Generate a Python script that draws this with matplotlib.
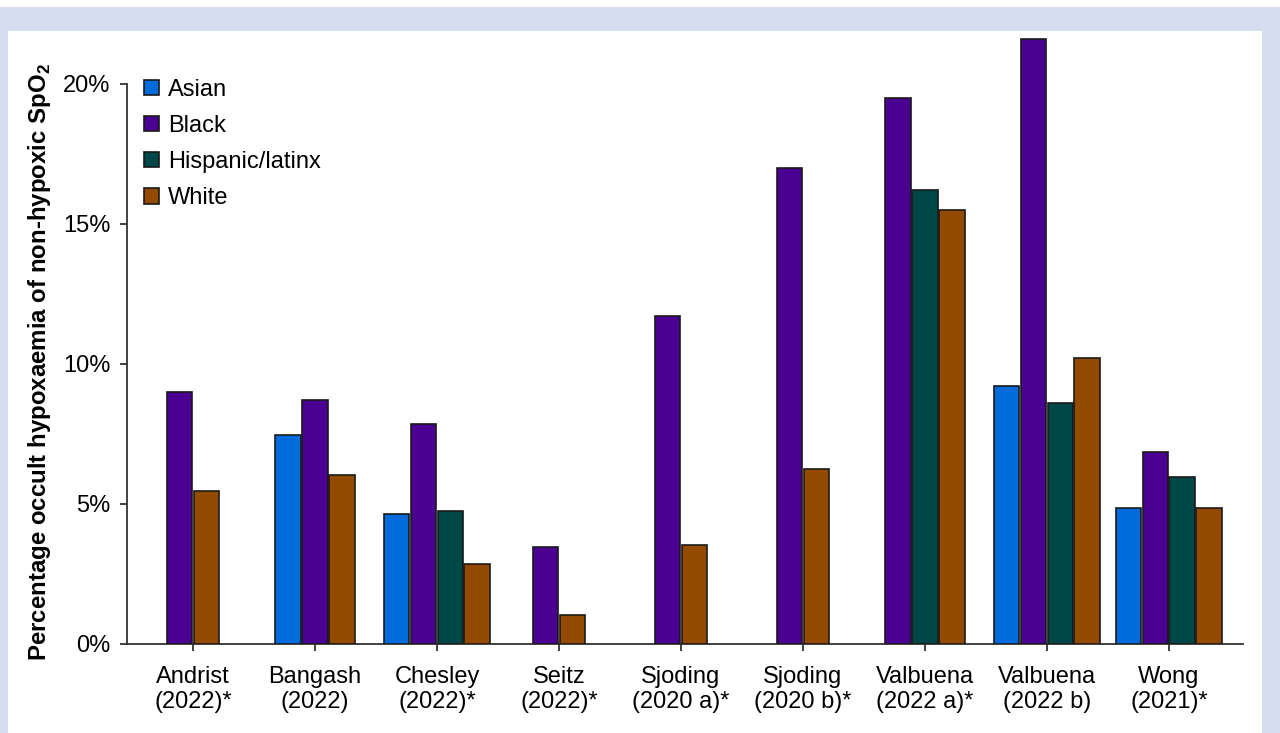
import numpy as np
import matplotlib
matplotlib.use('Agg')
import matplotlib.pyplot as plt
from matplotlib.patches import Rectangle

plt.rcParams['font.family'] = ['Liberation Sans', 'DejaVu Sans']
plt.rcParams['mathtext.fontset'] = 'custom'
plt.rcParams['mathtext.rm'] = 'Liberation Sans'
plt.rcParams['mathtext.bf'] = 'Liberation Sans:bold'

studies = ['Andrist\n(2022)*', 'Bangash\n(2022)', 'Chesley\n(2022)*', 'Seitz\n(2022)*',
           'Sjoding\n(2020 a)*', 'Sjoding\n(2020 b)*', 'Valbuena\n(2022 a)*',
           'Valbuena\n(2022 b)', 'Wong\n(2021)*']
groups = ['Asian', 'Black', 'Hispanic/latinx', 'White']
nan = np.nan
asian = [nan, 7.45, 4.65, nan, nan, nan, nan, 9.2, 4.85]
black = [9.0, 8.7, 7.85, 3.45, 11.7, 17.0, 19.5, 21.6, 6.85]
hispanic = [nan, nan, 4.75, nan, nan, nan, 16.2, 8.6, 5.95]
white = [5.45, 6.05, 2.85, 1.05, 3.55, 6.25, 15.5, 10.2, 4.85]
colors = ['#006CDC', '#4A0090', '#004848', '#924B00']

series = [asian, black, hispanic, white]

fig = plt.figure(figsize=(12.8, 7.33), dpi=100)
fig.patches.append(Rectangle((0, 0), 1, 1 - 7 / 733, transform=fig.transFigure,
                             facecolor='#D5DDEE', edgecolor='none', zorder=-10))
fig.patches.append(Rectangle((8 / 1280, 0), (1262 - 8) / 1280, 1 - 31 / 733,
                             transform=fig.transFigure, facecolor='white',
                             edgecolor='none', zorder=-9))

ax = fig.add_axes([127 / 1280, 1 - 644 / 733, (1243 - 127) / 1280, 616 / 733])
ax.patch.set_alpha(0)

step = 0.221
width = 0.212
handles = {}
for i in range(len(studies)):
    present = [k for k in range(4) if not np.isnan(series[k][i])]
    n = len(present)
    for j, k in enumerate(present):
        x = i + (j - (n - 1) / 2) * step
        b = ax.bar(x, series[k][i], width=width, color=colors[k],
                   edgecolor='#1a1a1a', linewidth=1.2, zorder=3)
        handles[k] = b

ax.set_xlim(-0.541, 8.607)
ax.set_ylim(0, 22)
ax.spines['left'].set_bounds(0, 20)
for s in ['top', 'right']:
    ax.spines[s].set_visible(False)
for s in ['left', 'bottom']:
    ax.spines[s].set_color('#333333')
    ax.spines[s].set_linewidth(1.3)

ax.set_yticks([0, 5, 10, 15, 20])
ax.set_yticklabels(['0%', '5%', '10%', '15%', '20%'])
ax.set_xticks(range(len(studies)))
ax.set_xticklabels(studies, linespacing=1.18)
ax.tick_params(axis='both', labelsize=17, length=5, width=1.3, color='#333333',
               direction='out', pad=7)
ax.tick_params(axis='x', pad=11)

ax.set_ylabel('Percentage occult hypoxaemia of non-hypoxic SpO$_\\mathbf{2}$',
              fontsize=17.3, fontweight='bold')
ax.yaxis.set_label_coords(-0.066, 0.458)

leg = ax.legend([handles[k] for k in range(4)], groups, loc='upper left',
                bbox_to_anchor=(0.0066, 0.933), frameon=False, fontsize=17,
                handlelength=0.63, handleheight=0.63, handletextpad=0.4,
                labelspacing=0.6, borderaxespad=0)

fig.savefig('out.png', dpi=100)
